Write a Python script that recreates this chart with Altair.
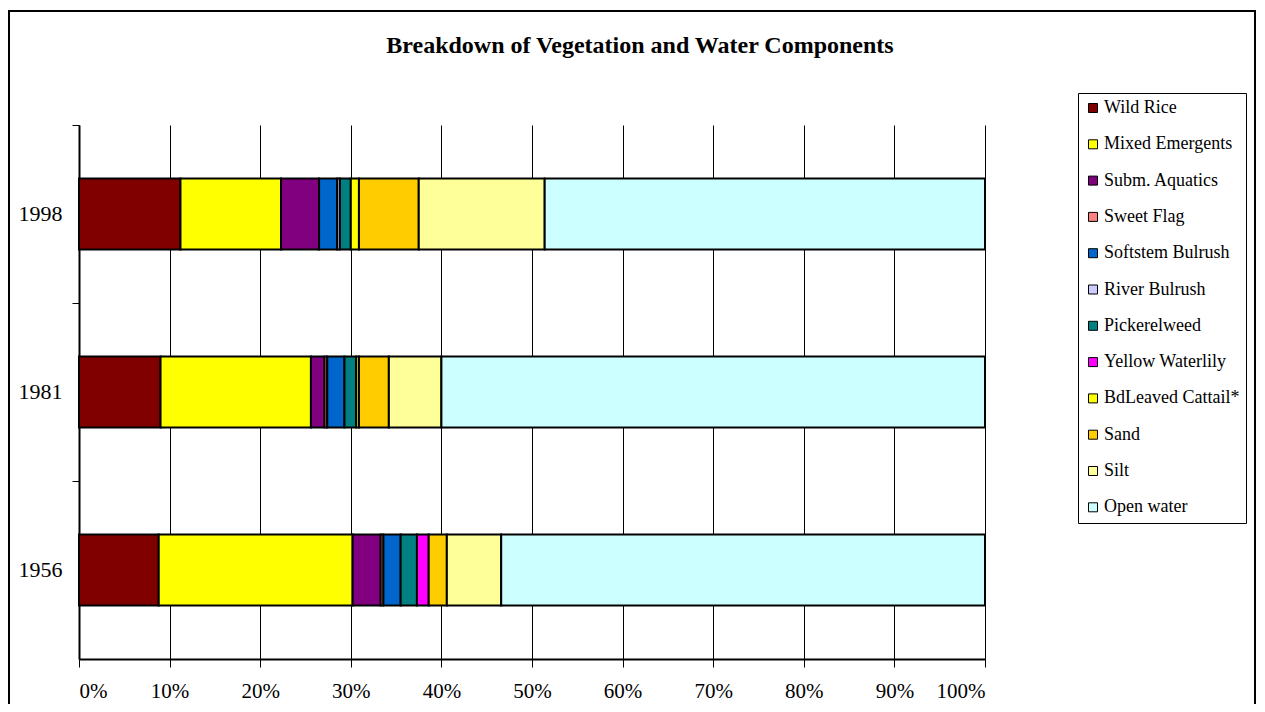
import altair as alt
import pandas as pd

years = ["1998", "1981", "1956"]
categories = ["Wild Rice", "Mixed Emergents", "Subm. Aquatics", "Sweet Flag",
              "Softstem Bulrush", "River Bulrush", "Pickerelweed", "Yellow Waterlily",
              "BdLeaved Cattail*", "Sand", "Silt", "Open water"]
colors = ["#800000", "#FFFF00", "#800080", "#FF8080",
          "#0066CC", "#CCCCFF", "#008080", "#FF00FF",
          "#FFFF00", "#FFCC00", "#FFFF99", "#CCFFFF"]

v1998 = [11.2, 11.1, 4.2, 0.0, 2.0, 0.3, 1.2, 0.0, 0.9, 6.6, 13.9, 48.6]
v1981 = [9.0, 16.6, 1.5, 0.3, 1.9, 0.0, 1.3, 0.0, 0.3, 3.3, 5.8, 60.0]
v1956 = [8.8, 21.4, 3.1, 0.3, 1.9, 0.0, 1.8, 1.3, 0.0, 2.0, 6.0, 53.4]

rows = []
for yr, vals in zip(years, [v1998, v1981, v1956]):
    for i, (c, v) in enumerate(zip(categories, vals)):
        if v > 0:
            rows.append({"year": yr, "category": c, "value": v, "idx": i})
df = pd.DataFrame(rows)

FONT = "Liberation Serif"

bars = alt.Chart(df).mark_bar(
    stroke="black", strokeWidth=2, height=alt.RelativeBandSize(0.4)
).encode(
    x=alt.X("value:Q", stack="zero",
            scale=alt.Scale(domain=[0, 100], nice=False),
            axis=alt.Axis(values=list(range(0, 101, 10)), labelExpr="datum.value + '%'",
                          title=None, grid=True, gridColor="black", gridWidth=1,
                          gridOpacity=1, domainColor="black", domainWidth=2,
                          tickColor="black", tickSize=8, tickWidth=1,
                          labelFont=FONT, labelFontSize=21, labelColor="black",
                          labelBaseline="alphabetic", labelPadding=30)),
    y=alt.Y("year:N", sort=years,
            scale=alt.Scale(paddingInner=0, paddingOuter=0),
            axis=alt.Axis(title=None, bandPosition=0, domainColor="black", domainWidth=2,
                          tickColor="black", tickSize=7, tickWidth=1,
                          labelFont=FONT, labelFontSize=22, labelColor="black",
                          labelPadding=10, grid=False)),
    color=alt.Color("category:N",
                    scale=alt.Scale(domain=categories, range=colors),
                    legend=alt.Legend(title=None, orient="none", legendX=999, legendY=-32,
                                      strokeColor="black", padding=6,
                                      symbolType="square", symbolSize=81,
                                      symbolStrokeColor="black", symbolStrokeWidth=1,
                                      labelFont=FONT, labelFontSize=18, labelColor="black",
                                      rowPadding=18.3, labelOffset=2, labelLimit=300)),
    order=alt.Order("idx:Q", sort="ascending"),
)

frame = alt.Chart(pd.DataFrame({"a": [0]})).mark_rect(
    fill=None, stroke="black", strokeWidth=2
).encode(
    x=alt.value(-70), x2=alt.value(1176), y=alt.value(-114), y2=alt.value(600)
)

chart = alt.layer(frame, bars).properties(
    width=906, height=534,
    autosize=alt.AutoSizeParams(type="none"),
    padding={"left": 71, "top": 117, "right": 272, "bottom": 45},
    title=alt.Title("Breakdown of Vegetation and Water Components",
                    font=FONT, fontSize=24, fontWeight="bold", color="black",
                    anchor="middle", dx=108, offset=0, dy=67, baseline="alphabetic"),
).configure_view(stroke=None)

chart.save("out.html", embed_options={"renderer": "svg", "actions": False})
